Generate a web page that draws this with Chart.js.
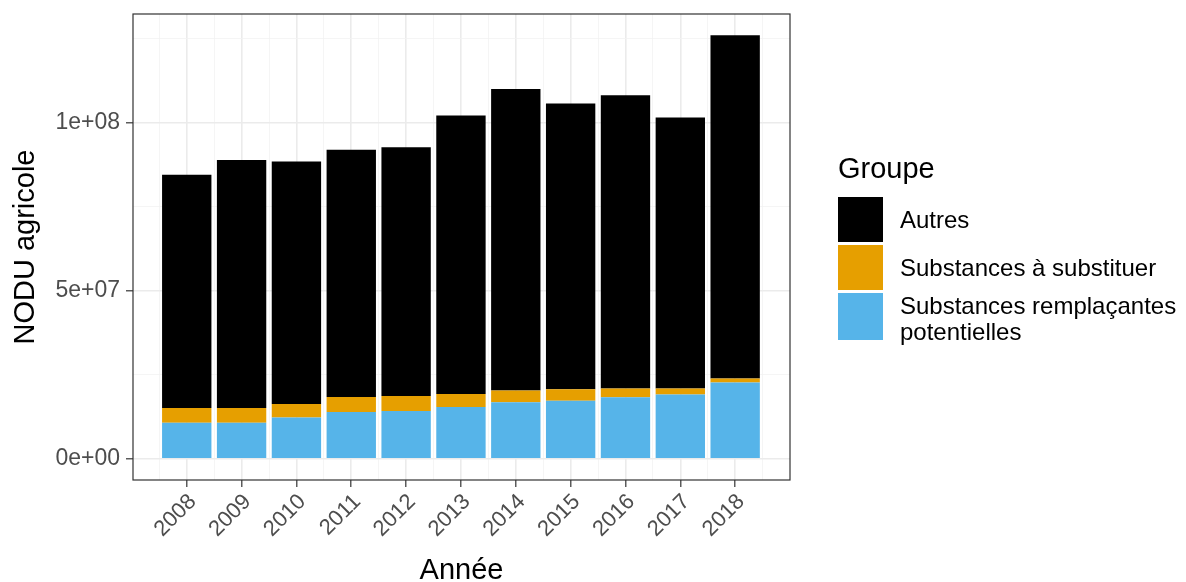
<!DOCTYPE html>
<html>
<head>
<meta charset="utf-8">
<script src="https://cdn.jsdelivr.net/npm/chart.js@4"></script>
<style>
  body { margin:0; background:#fff; font-family:"Liberation Sans", Arial, sans-serif; }
  #wrap { position:relative; width:1186px; height:582px; }
  #legend { position:absolute; left:838px; top:148px; }
  #legend .title { font-size:29px; height:40px; line-height:40px; margin-bottom:9px; }
  #legend .row { display:flex; align-items:center; margin-bottom:3px; }
  #legend .row.multi { align-items:flex-start; }
  #legend .key { width:45px; height:45px; flex:none; }
  #legend .row.multi .key { height:47px; }
  #legend .lab { font-size:24px; line-height:26px; margin-left:17px; }
</style>
</head>
<body>
<div id="wrap">
  <canvas id="chart" width="1186" height="582"></canvas>
  <div id="legend"></div>
</div>
<script>
// ================== DATA ==================
const years = [2008, 2009, 2010, 2011, 2012, 2013, 2014, 2015, 2016, 2017, 2018];
const remplacantes = [10.7e6, 10.7e6, 12.3e6, 13.9e6, 14.2e6, 15.4e6, 16.8e6, 17.3e6, 18.3e6, 19.1e6, 22.7e6];
const aSubstituer = [4.4e6, 4.4e6, 4.0e6, 4.5e6, 4.5e6, 3.9e6, 3.5e6, 3.4e6, 2.6e6, 1.8e6, 1.2e6];
const autres = [69.4e6, 73.8e6, 72.1e6, 73.5e6, 74.0e6, 82.8e6, 89.7e6, 85.0e6, 87.2e6, 80.6e6, 102.1e6];

const yTicks = [0, 2.5e7, 5e7, 7.5e7, 1e8, 1.25e8];
const yMajor = [0, 5e7, 1e8];

// stacked bottom -> top
const groups = [
  { label: "Substances remplaçantes\npotentielles", data: remplacantes, color: "#56B4E9" },
  { label: "Substances à substituer", data: aSubstituer, color: "#E69F00" },
  { label: "Autres", data: autres, color: "#000000" }
];

// ================== HELPERS ==================
function sci(v){
  // 5e+07 style like R
  let s = v.toExponential(0);
  return s.replace(/e([+-])(\d)$/, "e$10$2");
}
const isInt = v => Math.abs(v - Math.round(v)) < 1e-6;

// panel border
const panelBorder = {
  id: "panelBorder",
  afterDraw(chart){
    const a = chart.chartArea, c = chart.ctx;
    c.save();
    c.strokeStyle = "#333333";
    c.lineWidth = 1.2;
    c.strokeRect(a.left, a.top, a.right - a.left, a.bottom - a.top);
    c.restore();
  }
};

// ================== CHART ==================
const ctx = document.getElementById("chart").getContext("2d");
new Chart(ctx, {
  type: "bar",
  data: {
    datasets: groups.map(g => ({
      label: g.label,
      data: years.map((y, i) => ({ x: y, y: g.data[i] })),
      backgroundColor: g.color,
      borderWidth: 0,
      categoryPercentage: 1,
      barPercentage: 1.8 // tick spacing is half a year -> 0.9 year wide bars
    }))
  },
  options: {
    responsive: false,
    animation: false,
    layout: { padding: { left: 0, right: 396, top: 14, bottom: 0 } },
    plugins: { legend: { display: false }, tooltip: { enabled: false } },
    scales: {
      x: {
        type: "linear",
        stacked: true,
        offset: false,
        min: 2007.02,
        max: 2019,
        afterBuildTicks(scale){
          const t = [];
          for (let v = 2007.5; v <= 2018.5; v += 0.5) t.push({ value: v });
          scale.ticks = t;
        },
        afterFit(scale){ scale.height = 102; },
        ticks: {
          autoSkip: false,
          minRotation: 45,
          maxRotation: 45,
          padding: 2,
          labelOffset: 6,
          color: "#4d4d4d",
          font: { family: "Liberation Sans", size: 22 },
          callback: v => isInt(v) ? String(Math.round(v)) : ""
        },
        grid: {
          offset: false,
          color: c => (c.tick && isInt(c.tick.value)) ? "#ebebeb" : "#f3f3f3",
          lineWidth: c => (c.tick && isInt(c.tick.value)) ? 1.6 : 0.8,
          tickColor: c => (c.tick && isInt(c.tick.value)) ? "#333333" : "rgba(0,0,0,0)",
          tickLength: 7,
          tickWidth: 1.2
        },
        border: { display: false },
        title: {
          display: true,
          text: "Année",
          color: "#000",
          font: { family: "Liberation Sans", size: 29, lineHeight: 1 },
          padding: { top: 0, bottom: -3 }
        }
      },
      y: {
        stacked: true,
        min: -6.3e6,
        max: 1.323e8,
        afterBuildTicks(scale){ scale.ticks = yTicks.map(v => ({ value: v })); },
        afterFit(scale){
          scale.width = 133;
          // no extra room for the (empty) top label
          scale.paddingTop = 0;
          scale.paddingBottom = 0;
        },
        ticks: {
          padding: 6,
          color: "#4d4d4d",
          font: { family: "Liberation Sans", size: 23 },
          callback: v => yMajor.includes(v) ? sci(v) : ""
        },
        grid: {
          color: c => (c.tick && yMajor.includes(c.tick.value)) ? "#ebebeb" : "#f3f3f3",
          lineWidth: c => (c.tick && yMajor.includes(c.tick.value)) ? 1.6 : 0.8,
          tickColor: c => (c.tick && yMajor.includes(c.tick.value)) ? "#333333" : "rgba(0,0,0,0)",
          tickLength: 7,
          tickWidth: 1.2
        },
        border: { display: false },
        title: {
          display: true,
          text: "NODU agricole",
          color: "#000",
          font: { family: "Liberation Sans", size: 29 },
          padding: { top: 9, bottom: 6 }
        }
      }
    }
  },
  plugins: [panelBorder]
});

// ================== LEGEND ==================
const legend = document.getElementById("legend");
legend.innerHTML = '<div class="title">Groupe</div>';
groups.slice().reverse().forEach(g => {
  const row = document.createElement("div");
  row.className = g.label.includes("\n") ? "row multi" : "row";
  const key = document.createElement("div");
  key.className = "key";
  key.style.background = g.color;
  const lab = document.createElement("div");
  lab.className = "lab";
  lab.innerHTML = g.label.replace("\n", "<br>");
  row.appendChild(key); row.appendChild(lab);
  legend.appendChild(row);
});
</script>
</body>
</html>
